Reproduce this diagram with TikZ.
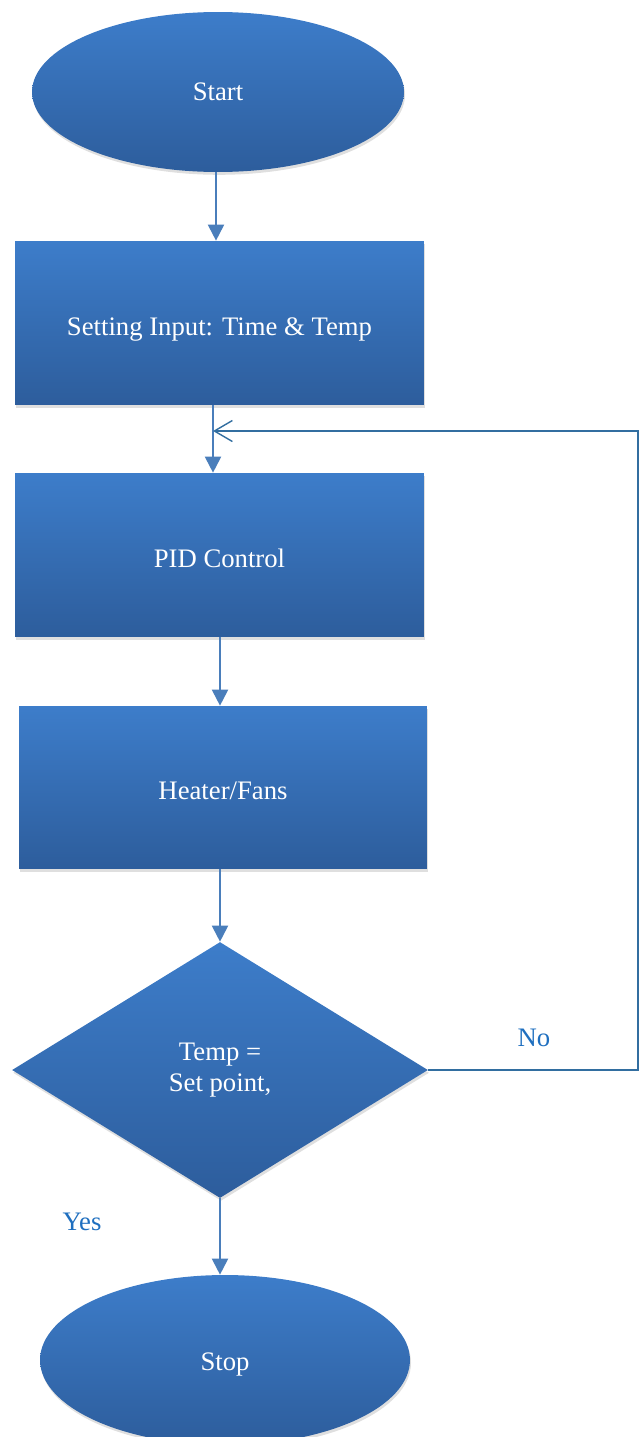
\documentclass[tikz,border=0pt]{standalone}
\usepackage{fontspec}
\setmainfont{Liberation Serif}
\usetikzlibrary{shapes.geometric,arrows.meta,shadows}
\definecolor{boxtop}{RGB}{61,125,202}
\definecolor{boxbot}{RGB}{45,93,156}
\definecolor{flowline}{RGB}{74,126,187}
\definecolor{loopline}{RGB}{50,110,160}
\definecolor{labelblue}{RGB}{31,111,191}
\begin{document}
\begin{tikzpicture}[x=0.02cm, y=-0.02cm,
    block/.style={draw=none, top color=boxtop, bottom color=boxbot, text=white,
        font=\fontsize{15.2}{18}\selectfont, align=center,
        drop shadow={opacity=0.25, shadow xshift=0.6pt, shadow yshift=-1.6pt}},
    lowered/.style={text height=17pt, text depth=3pt},
    flow/.style={flowline, line width=1.1pt, -{Triangle[length=0.32cm, width=0.32cm]}},
    answer/.style={text=labelblue, font=\fontsize{15.2}{18}\selectfont}]
    \useasboundingbox (0,0) rectangle (640,1437);
    \node[block, ellipse, minimum width=7.44cm, minimum height=3.2cm] (start) at (218,92) {Start};
    \node[block, lowered, rectangle, minimum width=8.18cm, minimum height=3.28cm] (setin) at (219.5,323) {Setting Input: Time \& Temp};
    \node[block, lowered, rectangle, minimum width=8.18cm, minimum height=3.28cm] (pid) at (219.5,555) {PID Control};
    \node[block, lowered, rectangle, minimum width=8.16cm, minimum height=3.26cm] (heat) at (223,787.5) {Heater/Fans};
    \node[block, diamond, minimum width=8.32cm, minimum height=5.12cm, inner sep=0pt] (check) at (220,1070) {Temp =\\Set point,};
    \node[block, ellipse, text height=15pt, text depth=3pt, minimum width=7.4cm, minimum height=3.4cm] (stop) at (225,1360) {Stop};
    \node[answer] (no) at (534,1038) {No};
    \node[answer] (yes) at (82,1222) {Yes};
    \coordinate (join) at (213,431);
    \coordinate (loopR) at (638,1070);
    % main line
    \draw[flow] (start.south -| 216,0) -- (setin.north -| 216,0);
    \draw[flow] (setin.south -| join) -- (pid.north -| join);
    \draw[flow] (pid.south -| 220,0) -- (heat.north -| 220,0);
    \draw[flow] (heat.south -| 220,0) -- (check.north);
    \draw[flow] (check.south) -- (stop.north -| check.south);
    % back to PID when not reached
    \draw[loopline, line width=0.8pt, -{Straight Barb[length=0.36cm, width=0.42cm]}] (check.east) -- (loopR) |- (join);
\end{tikzpicture}
\end{document}
